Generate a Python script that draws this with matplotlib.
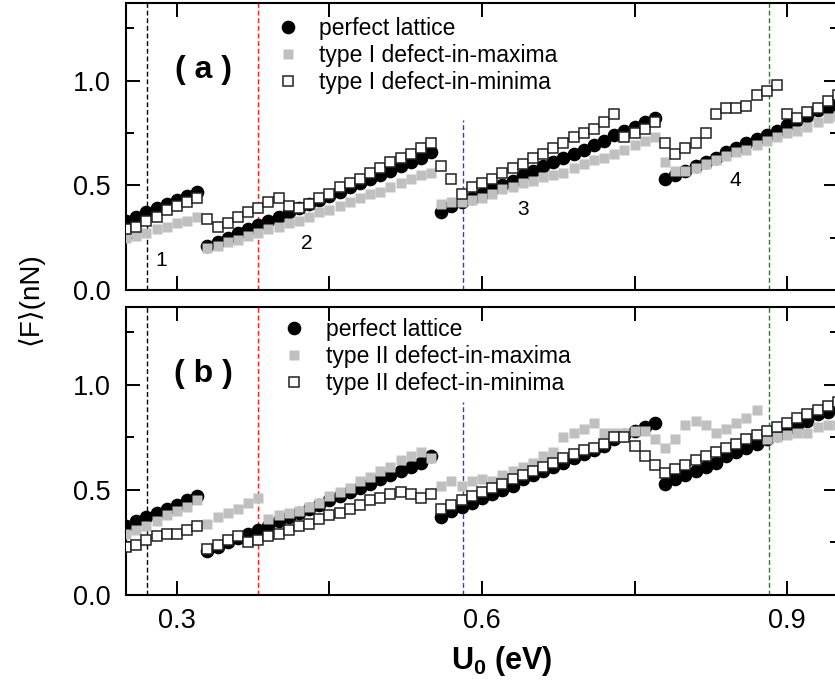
import numpy as np
import matplotlib
matplotlib.use("Agg")
import matplotlib.pyplot as plt
from matplotlib.ticker import FixedLocator, FixedFormatter

plt.rcParams['font.family'] = ['Liberation Sans', 'DejaVu Sans']
plt.rcParams['mathtext.fontset'] = 'custom'
plt.rcParams['mathtext.rm'] = 'Liberation Sans'
plt.rcParams['mathtext.bf'] = 'Liberation Sans:bold'

# substrate potential U0 (eV), one point every 0.01 eV
u0 = np.round(np.arange(0.25, 0.955, 0.01), 2)

# mean friction force <F> (nN)
perfect = [0.33, 0.35, 0.37, 0.39, 0.41, 0.43, 0.45, 0.47,
           0.21, 0.23, 0.25, 0.27, 0.29, 0.31, 0.33, 0.35, 0.37, 0.39, 0.41, 0.43,
           0.45, 0.47, 0.49, 0.51, 0.53, 0.55, 0.57, 0.59, 0.61, 0.63, 0.66,
           0.37, 0.40, 0.42, 0.44, 0.46, 0.48, 0.50, 0.52, 0.55, 0.57, 0.59, 0.61,
           0.63, 0.65, 0.67, 0.69, 0.71, 0.74, 0.76, 0.78, 0.80, 0.82,
           0.53, 0.55, 0.57, 0.59, 0.61, 0.63, 0.66, 0.68, 0.70, 0.72, 0.74, 0.76,
           0.79, 0.81, 0.83, 0.86, 0.87, 0.90]

maxima_1 = [0.25, 0.26, 0.27, 0.29, 0.30, 0.32, 0.33, 0.35,
            0.20, 0.21, 0.23, 0.24, 0.26, 0.27, 0.29, 0.30, 0.32, 0.33, 0.35, 0.37,
            0.38, 0.40, 0.42, 0.44, 0.46, 0.47, 0.49, 0.51, 0.53, 0.55, 0.56,
            0.41, 0.42, 0.42, 0.43, 0.44, 0.46, 0.48, 0.49, 0.51, 0.52, 0.54, 0.55,
            0.56, 0.58, 0.60, 0.62, 0.63, 0.65, 0.67, 0.69, 0.71, 0.73,
            0.61, 0.57, 0.57, 0.58, 0.60, 0.62, 0.64, 0.66, 0.67, 0.69, 0.71, 0.73,
            0.75, 0.76, 0.78, 0.80, 0.82, 0.83]

minima_1 = [0.29, 0.30, 0.33, 0.35, 0.38, 0.40, 0.42, 0.44,
            0.34, 0.30, 0.32, 0.35, 0.37, 0.39, 0.42, 0.44, 0.40, 0.39, 0.41, 0.44,
            0.46, 0.49, 0.51, 0.53, 0.56, 0.58, 0.61, 0.63, 0.65, 0.68, 0.70, 0.59, 0.53,
            0.46, 0.49, 0.51, 0.53, 0.56, 0.58, 0.60, 0.63, 0.65, 0.68, 0.70, 0.73,
            0.75, 0.77, 0.80, 0.84,
            0.73, 0.75, 0.77, 0.80,
            0.70, 0.65, 0.68, 0.70, 0.75, 0.84, 0.87, 0.87, 0.88, 0.93, 0.95, 0.98,
            0.84, 0.82, 0.85, 0.87, 0.90, 0.93]

maxima_2 = [0.29, 0.31, 0.33, 0.35, 0.38, 0.40, 0.42, 0.45,
            0.34, 0.37, 0.39, 0.41, 0.44, 0.46,
            0.36, 0.38, 0.39, 0.40, 0.42, 0.44, 0.47, 0.49, 0.51, 0.54, 0.56, 0.59,
            0.61, 0.64, 0.66, 0.68,
            0.65,
            0.52, 0.54, 0.52, 0.54, 0.55, 0.54, 0.57, 0.59, 0.61, 0.63, 0.66, 0.68,
            0.75, 0.77, 0.79, 0.82,
            0.77, 0.77, 0.77, 0.78, 0.78,
            0.74, 0.70, 0.74, 0.81, 0.83, 0.81, 0.77, 0.79, 0.82, 0.84, 0.88,
            0.74, 0.75, 0.76, 0.77, 0.77, 0.80, 0.81, 0.81]

minima_2 = [0.23, 0.24, 0.26, 0.28, 0.29, 0.29, 0.31, 0.33,
            0.22, 0.24, 0.26, 0.28,
            0.25, 0.26, 0.28, 0.29, 0.31, 0.33, 0.34, 0.36, 0.38, 0.39, 0.41, 0.43,
            0.45, 0.46, 0.48, 0.49, 0.48, 0.46, 0.48,
            0.41, 0.43, 0.45, 0.47, 0.49, 0.51, 0.53, 0.55, 0.57, 0.59, 0.61, 0.63,
            0.65, 0.67, 0.69, 0.70, 0.72, 0.75, 0.75,
            0.71, 0.66, 0.62, 0.58,
            0.60, 0.62, 0.64, 0.66, 0.68, 0.70, 0.72, 0.74, 0.76, 0.78, 0.80, 0.82,
            0.84, 0.86, 0.88, 0.90, 0.92]

# dashed markers of selected U0 values
vline_x = [0.271, 0.38, 0.581, 0.882]
vline_colors = ['black', '#ff2020', '#3030ff', '#109010']
vline_top = {'a': [1.37, 1.37, 0.81, 1.37], 'b': [1.37, 1.37, 0.92, 1.37]}

region_labels = ['1', '2', '3', '4']
region_x = [0.285, 0.428, 0.640, 0.849]
region_y = [0.143, 0.222, 0.384, 0.524]

fig = plt.figure(figsize=(8.35, 6.84), dpi=100)
ax_a = fig.add_axes([126 / 835, 1 - 290 / 684, 712 / 835, 287 / 684])
ax_b = fig.add_axes([126 / 835, 1 - 595 / 684, 712 / 835, 288 / 684])


def draw_panel(ax, maxima, minima, kind, tag, legend_pos, textpad):
    ax.plot(u0, perfect, 'o', ms=8.8, color='black', mec='black',
            label='perfect lattice', zorder=3)
    ax.plot(u0, maxima, 's', ms=7.5, color='#c0c0c0', mec='none',
            label='type %s defect-in-maxima' % kind, zorder=4)
    ax.plot(u0, minima, 's', ms=7.1, mfc='white', mec='#222222', mew=1.1,
            label='type %s defect-in-minima' % kind, zorder=5)

    for x, c, top in zip(vline_x, vline_colors, vline_top[tag]):
        ax.vlines(x, 0, top, colors=c, linestyles=(0, (3.5, 2)), lw=1, zorder=2)

    ax.set_xlim(0.25, 0.95)
    ax.set_ylim(0, 1.37)
    ax.xaxis.set_major_locator(FixedLocator([0.3, 0.45, 0.6, 0.75, 0.9]))
    ax.xaxis.set_major_formatter(FixedFormatter(['0.3', '', '0.6', '', '0.9']))
    ax.yaxis.set_major_locator(FixedLocator([0.0, 0.5, 1.0]))
    ax.yaxis.set_major_formatter(FixedFormatter(['0.0', '0.5', '1.0']))
    ax.yaxis.set_minor_locator(FixedLocator([0.25, 0.75, 1.25]))
    ax.tick_params(which='both', direction='in', top=True, right=True,
                   width=1.4, labelsize=19.5)
    ax.tick_params(which='major', length=10)
    ax.tick_params(which='minor', length=6)
    ax.tick_params(axis='y', pad=11)
    ax.tick_params(axis='x', pad=9)
    for s in ax.spines.values():
        s.set_linewidth(1.5)

    ax.text(0.326, 1.05, '( %s )' % tag, fontsize=23, fontweight='bold',
            ha='center', va='center')
    ax.legend(loc='upper left', bbox_to_anchor=legend_pos, frameon=False,
              fontsize=16.5, handlelength=1.0, handletextpad=textpad,
              labelspacing=0.18, borderpad=0, borderaxespad=0)


draw_panel(ax_a, maxima_1, minima_1, 'I', 'a', (0.2114, 0.952), 0.86)
draw_panel(ax_b, maxima_2, minima_2, 'II', 'b', (0.2198, 0.962), 0.9)
ax_a.tick_params(axis='x', labelbottom=False)

for lab, x, y in zip(region_labels, region_x, region_y):
    ax_a.text(x, y, lab, fontsize=15, ha='center', va='center')

fig.text(30 / 835, 1 - 299 / 684, '⟨F⟩(nN)', rotation=90, fontsize=20,
         ha='center', va='center')
fig.text(502 / 835, 1 - 661 / 684, r'$\mathbf{U_0}$ (eV)', fontsize=22,
         fontweight='bold', ha='center', va='center')

fig.savefig('out.png', dpi=100)
